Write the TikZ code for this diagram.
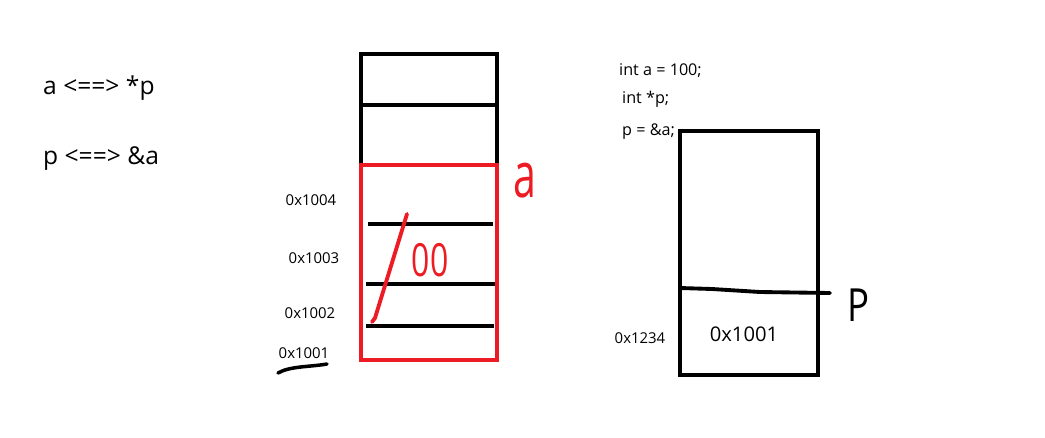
\documentclass[tikz,border=0pt]{standalone}
\usepackage{fontspec}
\setmainfont{Open Sans}
\definecolor{paintred}{RGB}{237,28,36}
\tikzset{
  box/.style={draw=black, line width=2.3pt},
  redbox/.style={draw=paintred, line width=2.3pt},
  addr/.style={font=\fontsize{8.5}{10}\selectfont},
  code/.style={font=\fontsize{9.2}{11}\selectfont, anchor=west},
  hand/.style={inner sep=0pt, font=\fontsize{26}{28}\selectfont}
}
\begin{document}
\begin{tikzpicture}[x=0.02cm, y=-0.02cm]
        \useasboundingbox (0,0) rectangle (1045,437);
        % Relations
        \node[anchor=west, font=\fontsize{14}{16}\selectfont] (rel1) at (37,88) {a <==> *p};
        \node[anchor=west, font=\fontsize{14}{16}\selectfont] (rel2) at (37,159) {p <==> \&a};

        % Memory of a
        \draw[box] (361,54) rectangle (497,165);
        \draw[box] (361,105) -- (497,105);
        \draw[redbox] (361,165) rectangle (497,360);
        \draw[box] (368,224) -- (493,224);
        \draw[box] (366,284) -- (495,284);
        \draw[box] (366,326) -- (494,326);

        % Addresses
        \node[addr] (ad4) at (311,200) {0x1004};
        \node[addr] (ad3) at (314,258) {0x1003};
        \node[addr] (ad2) at (310,313) {0x1002};
        \node[addr] (ad1) at (304,353) {0x1001};
        \draw[line width=2pt, line cap=round] (278,373) .. controls (290,366) and (310,367) .. (327,364);

        % Handwritten a and 100
        \node[hand, paintred, font=\fontsize{36}{38}\selectfont, xscale=0.65] (na) at (525,181) {a};
        \draw[paintred, line width=2.2pt, line cap=round] (407,214) -- (375,318) -- (372,322);
        \node[hand, paintred, xscale=0.7] (val) at (430,260) {00};

        % Code
        \node[code] (c1) at (613,71) {int a = 100;};
        \node[code] (c2) at (616,99) {int *p;};
        \node[code] (c3) at (616,132) {p = \&a;};

        % Memory of p
        \draw[box] (680,131) rectangle (818,375);
        \draw[line width=2.2pt, line cap=round] (680,288) -- (712,289) -- (760,292) -- (830,293);
        \node[font=\fontsize{11.5}{13}\selectfont] (pval) at (744,334) {0x1001};
        \node[addr] (pad) at (640,338) {0x1234};
        \node[hand, xscale=0.8] (np) at (858,305) {P};
    \end{tikzpicture}
\end{document}
